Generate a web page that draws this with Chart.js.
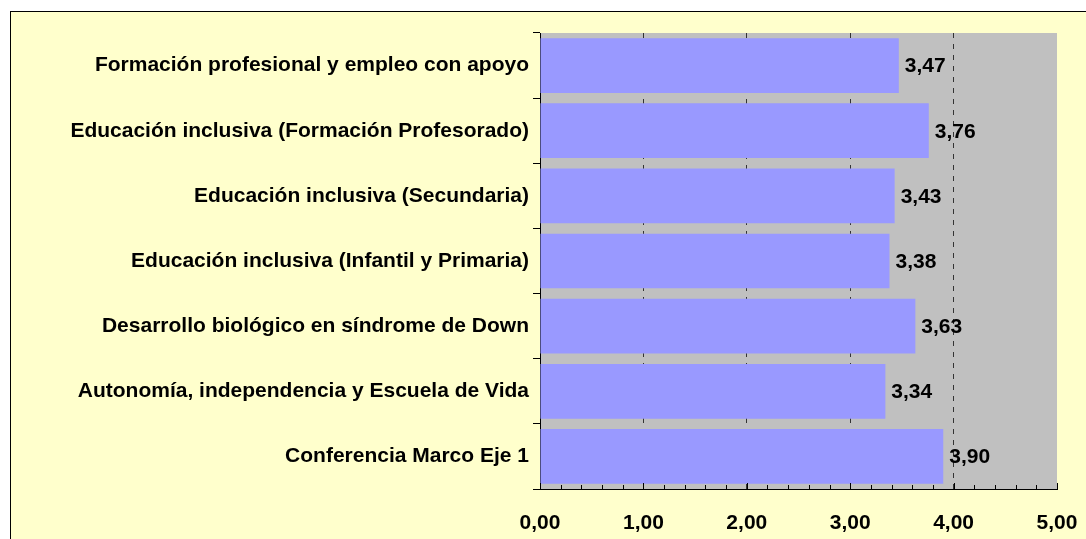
<!DOCTYPE html>
<html>
<head>
<meta charset="utf-8">
<script src="https://cdn.jsdelivr.net/npm/chart.js@4"></script>
<style>
  html, body { margin: 0; padding: 0; background: #ffffff; }
  #frame {
    position: absolute; left: 10px; top: 11px; width: 1100px; height: 560px;
    background: #ffffcc; border: 1px solid #000;
  }
  #wrap { position: absolute; left: 0; top: 0; width: 1086px; height: 539px; }
</style>
</head>
<body>
<div id="frame"></div>
<div id="wrap"><canvas id="chart" width="1086" height="539"></canvas></div>
<script>
// Categories, top to bottom
const categories = [
    "Formación profesional y empleo con apoyo",
    "Educación inclusiva (Formación Profesorado)",
    "Educación inclusiva (Secundaria)",
    "Educación inclusiva (Infantil y Primaria)",
    "Desarrollo biológico en síndrome de Down",
    "Autonomía, independencia y Escuela de Vida",
    "Conferencia Marco Eje 1"
];
const scores = [3.47, 3.76, 3.43, 3.38, 3.63, 3.34, 3.90];
const axisMin = 0;
const axisMax = 5;

const fmt = v => v.toFixed(2).replace(".", ",");
const boldFont = { family: "'Liberation Sans', Arial, sans-serif", size: 21, weight: "bold" };

// gray plot area
const plotBackground = {
    id: "plotBackground",
    beforeDraw(chart) {
        const a = chart.chartArea;
        const ctx = chart.ctx;
        ctx.save();
        ctx.fillStyle = "#c0c0c0";
        ctx.fillRect(a.left, a.top, a.right - a.left, a.bottom - a.top);
        ctx.restore();
    }
};

// minor tick marks on the value axis, pointing inside
const minorTicks = {
    id: "minorTicks",
    afterDraw(chart) {
        const x = chart.scales.x;
        const ctx = chart.ctx;
        const y0 = chart.chartArea.bottom;
        ctx.save();
        ctx.strokeStyle = "#000";
        ctx.lineWidth = 1;
        for (let i = 0; i <= (axisMax - axisMin) * 5; i++) {
            const px = Math.round(x.getPixelForValue(axisMin + i * 0.2)) + 0.5;
            const len = i % 5 === 0 ? 6 : 4;
            ctx.beginPath();
            ctx.moveTo(px, y0);
            ctx.lineTo(px, y0 - len);
            ctx.stroke();
        }
        ctx.restore();
    }
};

// value labels at the end of each bar
const valueLabels = {
    id: "valueLabels",
    afterDatasetsDraw(chart) {
        const ctx = chart.ctx;
        const meta = chart.getDatasetMeta(0);
        ctx.save();
        ctx.fillStyle = "#000";
        ctx.font = "bold 21px 'Liberation Sans', Arial, sans-serif";
        ctx.textAlign = "left";
        ctx.textBaseline = "middle";
        meta.data.forEach((bar, i) => {
            ctx.fillText(fmt(scores[i]), bar.x + 6, bar.y + 1);
        });
        ctx.restore();
    }
};

new Chart(document.getElementById("chart"), {
    type: "bar",
    data: {
        labels: categories,
        datasets: [{
            data: scores,
            backgroundColor: "#9999ff",
            borderWidth: 0,
            categoryPercentage: 1,
            barPercentage: 0.84
        }]
    },
    options: {
        indexAxis: "y",
        responsive: false,
        animation: false,
        layout: { padding: { top: 33, right: 29, left: 0, bottom: 0 } },
        plugins: { legend: { display: false }, tooltip: { enabled: false } },
        scales: {
            x: {
                min: axisMin,
                max: axisMax,
                ticks: {
                    stepSize: 1,
                    color: "#000",
                    font: boldFont,
                    padding: 22,
                    callback: v => fmt(v)
                },
                grid: {
                    color: c => (c.tick && c.tick.value > axisMin && c.tick.value < axisMax) ? "#333" : "rgba(0,0,0,0)",
                    lineWidth: 1,
                    drawTicks: false
                },
                border: { display: true, color: "#000", width: 1, dash: [5, 6] },
                afterFit: s => {
                    s.height = 539 - 489;
                    s.paddingLeft = 0;
                    s.paddingRight = 0;
                }
            },
            y: {
                ticks: { color: "#000", font: boldFont, padding: 4 },
                grid: {
                    offset: true,
                    drawOnChartArea: false,
                    drawTicks: true,
                    tickLength: 7,
                    color: "#000"
                },
                border: { display: true, color: "#000", width: 1 },
                afterFit: s => {
                    s.width = 540;
                    s.paddingTop = 0;
                    s.paddingBottom = 0;
                }
            }
        }
    },
    plugins: [plotBackground, minorTicks, valueLabels]
});
</script>
</body>
</html>
